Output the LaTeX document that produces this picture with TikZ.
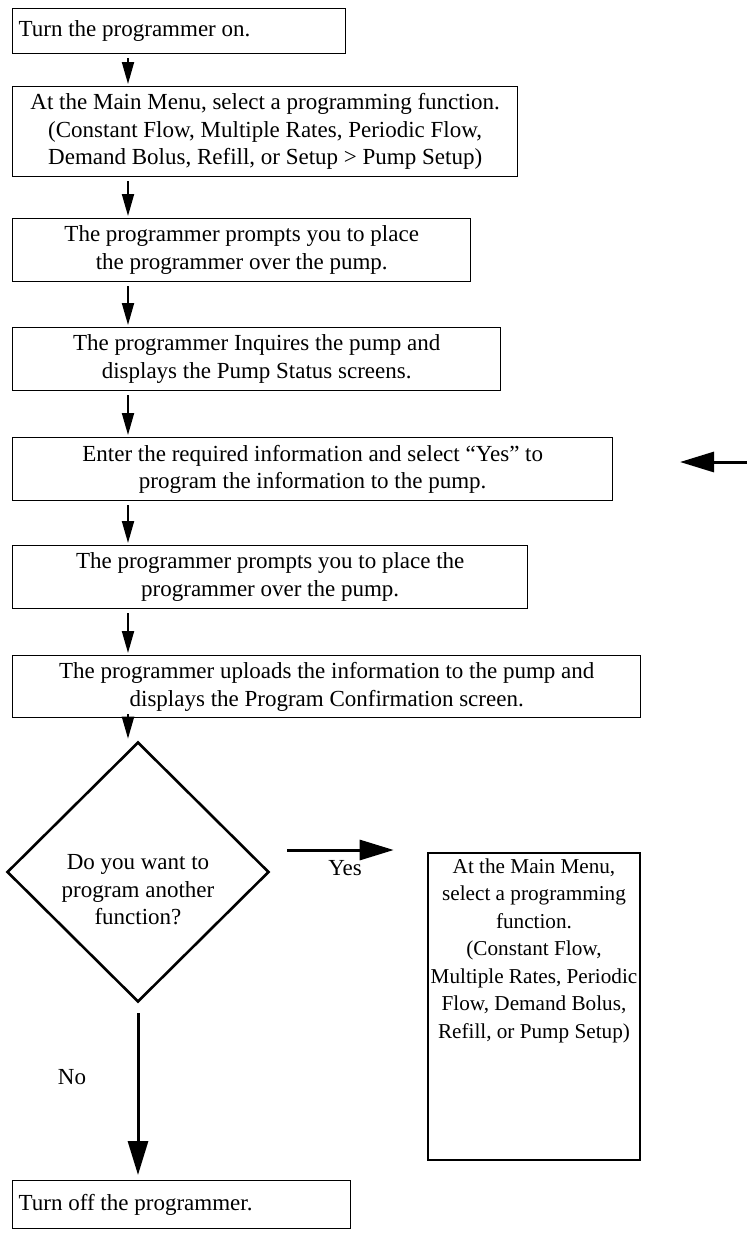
\documentclass[tikz,border=0pt]{standalone}
\usepackage{fontspec}
\setmainfont{Liberation Serif}
\usetikzlibrary{arrows.meta,shapes.geometric,positioning}

\newcommand{\stepfont}{\fontsize{11.5pt}{13.75pt}\selectfont}
\newcommand{\selfont}{\fontsize{10.6pt}{13.75pt}\selectfont}

\begin{document}
\begin{tikzpicture}[x=0.5pt, y=-0.5pt,
		stepbox/.style={draw, line width=0.7pt, inner sep=0pt, align=center,
			font=\stepfont, anchor=north west},
		endbox/.style={stepbox, align=flush left, inner xsep=3pt},
		decision/.style={draw, diamond, line width=1.3pt, inner sep=0pt,
			minimum width=131pt, minimum height=130pt},
		selbox/.style={draw, line width=1.3pt, inner sep=0pt, font=\selfont},
		flow/.style={line width=1pt, -{Triangle[length=11pt,width=6pt]},
			shorten <=2pt, shorten >=1pt},
		bigflow/.style={line width=1.5pt, -{Triangle[length=17pt,width=10pt]}},
		answer/.style={font=\stepfont}
		]
	\useasboundingbox (0,0) rectangle (747,1260);
	\coordinate (axis) at (128,0);

	\node [endbox, minimum width=166.5pt, minimum height=22.5pt, text width=160.5pt] (on) at (12,8)
		{Turn the programmer on.};
	\node [stepbox, minimum width=252.5pt, minimum height=45pt] (menu) at (12,86)
		{At the Main Menu, select a programming function.\\
		 (Constant Flow, Multiple Rates, Periodic Flow,\\
		 Demand Bolus, Refill, or Setup > Pump Setup)};
	\node [stepbox, minimum width=229pt, minimum height=31.5pt] (place1) at (12,218)
		{The programmer prompts you to place\\ the programmer over the pump.};
	\node [stepbox, minimum width=244pt, minimum height=31.5pt] (inquire) at (12,327)
		{The programmer Inquires the pump and\\ displays the Pump Status screens.};
	\node [stepbox, minimum width=300pt, minimum height=31.5pt] (enter) at (12,437)
		{Enter the required information and select “Yes” to\\ program the information to the pump.};
	\node [stepbox, minimum width=257.5pt, minimum height=31.5pt] (place2) at (12,545)
		{The programmer prompts you to place the\\ programmer over the pump.};
	\node [stepbox, minimum width=314pt, minimum height=31pt] (upload) at (12,655)
		{The programmer uploads the information to the pump and\\ displays the Program Confirmation screen.};

	% decision and the two answers
	\node [decision, label={[font=\stepfont, align=center, yshift=-9pt]center:Do you want to\\ program another\\ function?}] (dec) at (138,872) {};
	\node [selbox, minimum width=106pt, minimum height=153.5pt] (sel) at (534,1006.5)
		{\parbox[c][150pt][t]{105pt}{\centering\vspace*{1pt}At the Main Menu,\\ select a programming\\ function.\\
		 (Constant Flow,\\ Multiple Rates, Periodic\\ Flow, Demand Bolus,\\ Refill, or Pump Setup)}};
	\node [endbox, minimum width=169pt, minimum height=24pt, text width=163pt] (off) at (12,1180)
		{Turn off the programmer.};
	\node [answer] (yes) at (345,868) {Yes};
	\node [answer] (no) at (72,1077) {No};

	\draw [flow] (on.south -| axis) -- (menu.north -| axis);
	\draw [flow] (menu.south -| axis) -- (place1.north -| axis);
	\draw [flow] (place1.south -| axis) -- (inquire.north -| axis);
	\draw [flow] (inquire.south -| axis) -- (enter.north -| axis);
	\draw [flow] (enter.south -| axis) -- (place2.north -| axis);
	\draw [flow] (place2.south -| axis) -- (upload.north -| axis);
	\draw [flow] (upload.south -| axis) -- (dec.north -| axis);

	\coordinate (yesstart) at ([shift={(17,-22)}]dec.east);
	\draw [bigflow, shorten >=16.5pt] (yesstart) -- (yesstart -| sel.west);
	\draw [bigflow, shorten <=5pt, shorten >=2.5pt] (dec.south) -- (off.north -| dec.south);

	% arrow coming back from the right edge
	\coordinate (loopin) at (747,462);
	\coordinate (loopend) at (680,462);
	\draw [bigflow] (loopin) -- (loopend);
\end{tikzpicture}
\end{document}
